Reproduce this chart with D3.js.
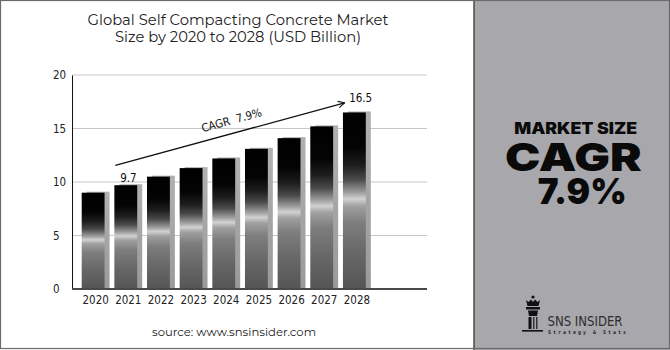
<!DOCTYPE html>
<html>
<head>
<meta charset="utf-8">
<script src="https://cdn.jsdelivr.net/npm/d3@7/dist/d3.min.js"></script>
<style>
  html, body { margin: 0; padding: 0; background: #fff; }
  svg { display: block; }
</style>
</head>
<body>
<svg id="chart" width="670" height="350"></svg>
<script>
// ---- data ----
const years = ["2020", "2021", "2022", "2023", "2024", "2025", "2026", "2027", "2028"];
const values = [9.0, 9.7, 10.5, 11.3, 12.2, 13.1, 14.1, 15.2, 16.5];
const yTicks = [0, 5, 10, 15, 20];
const labelledYears = ["2021", "2028"];
const titleLines = ["Global Self Compacting Concrete Market", "Size by 2020 to 2028 (USD Billion)"];
const cagrText = "CAGR  7.9%";
const sideLines = ["MARKET SIZE", "CAGR", "7.9%"];
const sourceText = "source: www.snsinsider.com";

const W = 670, H = 350;
const svg = d3.select("#chart");
const condensed = "'Liberation Sans Narrow', 'DejaVu Sans Condensed', 'Roboto Condensed', 'Liberation Sans', sans-serif";
const wide = "Montserrat, 'Open Sans', 'Noto Sans', sans-serif";

// ---- gradients ----
const defs = svg.append("defs");
const g1 = defs.append("linearGradient").attr("id", "barGrad").attr("x1", 0).attr("y1", 0).attr("x2", 0).attr("y2", 1);
[[0, "#000"], [0.2, "#040404"], [0.3, "#1e1e1e"], [0.38, "#4a4a4a"], [0.45, "#9a9a9a"], [0.49, "#d2d2d2"], [0.53, "#a0a0a0"], [0.62, "#7e7e7e"], [0.8, "#676767"], [1, "#555"]]
  .forEach(([o, c]) => g1.append("stop").attr("offset", o).attr("stop-color", c));
const g2 = defs.append("linearGradient").attr("id", "shadowGrad").attr("x1", 0).attr("y1", 0).attr("x2", 0).attr("y2", 1);
[[0, "#b0b0b0"], [1, "#9a9a9a"]].forEach(([o, c]) => g2.append("stop").attr("offset", o).attr("stop-color", c));
const mk = defs.append("marker").attr("id", "arrow").attr("viewBox", "0 0 10 10").attr("refX", 9).attr("refY", 5)
  .attr("markerWidth", 8).attr("markerHeight", 8).attr("markerUnits", "userSpaceOnUse").attr("orient", "auto");
mk.append("path").attr("d", "M1,1 L9,5 L1,9").attr("fill", "none").attr("stroke", "#111").attr("stroke-width", 1.4);

// ---- background / panels ----
svg.append("rect").attr("x", 0).attr("y", 0).attr("width", W).attr("height", H).attr("fill", "#fff");
svg.append("rect").attr("x", 474).attr("y", 0).attr("width", W - 474).attr("height", H).attr("fill", "#a8a8ac");
svg.append("line").attr("x1", 474).attr("x2", 474).attr("y1", 0).attr("y2", H).attr("stroke", "#4a4a4a").attr("stroke-width", 1.5);
svg.append("rect").attr("x", 0.5).attr("y", 0.5).attr("width", W - 1).attr("height", H - 2).attr("fill", "none").attr("stroke", "#6a6a6a").attr("stroke-width", 1.2);

// ---- title ----
const titleW = [301, 246];
titleLines.forEach((t, i) => {
  svg.append("text").attr("x", 238).attr("y", 24.5 + i * 17.3).attr("text-anchor", "middle")
    .attr("font-family", wide).attr("font-size", 14).attr("fill", "#222")
    .attr("textLength", titleW[i]).attr("lengthAdjust", "spacingAndGlyphs").text(t);
});

// ---- scales ----
const x0 = 72, x1 = 427;
const y = d3.scaleLinear().domain([0, 20]).range([289, 75]);
const x = d3.scaleBand().domain(years).range([76.8, 370.7]).paddingInner(0.3).paddingOuter(0.15);
const bw = x.bandwidth();

// gridlines
svg.append("g").selectAll("line").data(yTicks.filter(d => d > 0)).join("line")
  .attr("x1", x0).attr("x2", x1).attr("y1", d => y(d)).attr("y2", d => y(d))
  .attr("stroke", "#c6c6c6").attr("stroke-width", 1);

// y axis
const yAxis = d3.axisLeft(y).tickValues(yTicks).tickSize(0).tickPadding(0);
const ya = svg.append("g").attr("transform", `translate(${x0},0)`).call(yAxis);
ya.select(".domain").attr("stroke", "#111").attr("stroke-width", 1);
ya.selectAll("text").attr("x", 53 - x0).attr("text-anchor", "start")
  .attr("font-family", condensed).attr("font-size", 11.5).attr("fill", "#222");

// bars
const bars = svg.append("g");
bars.selectAll("rect.sh").data(values).join("rect").attr("class", "sh")
  .attr("x", (d, i) => x(years[i]) + 5).attr("y", d => y(d) - 1)
  .attr("width", bw).attr("height", d => y(0) - y(d) + 1)
  .attr("fill", "url(#shadowGrad)");
bars.selectAll("rect.bar").data(values).join("rect").attr("class", "bar")
  .attr("x", (d, i) => x(years[i])).attr("y", d => y(d))
  .attr("width", bw).attr("height", d => y(0) - y(d))
  .attr("fill", "url(#barGrad)");

// x baseline
svg.append("line").attr("x1", x0).attr("x2", x1).attr("y1", y(0)).attr("y2", y(0))
  .attr("stroke", "#4a4a4a").attr("stroke-width", 2);

// x labels
const xAxis = d3.axisBottom(x).tickSize(0).tickPadding(0);
const xa = svg.append("g").attr("transform", `translate(2.5,${y(0)})`).call(xAxis);
xa.select(".domain").remove();
xa.selectAll("text").attr("dy", 0).attr("y", 14.5)
  .attr("font-family", condensed).attr("font-size", 11.5).attr("fill", "#222");

// value labels
labelledYears.forEach((yr, k) => {
  const i = years.indexOf(yr);
  const v = values[i];
  svg.append("text").attr("x", x(yr) + bw / 2 + (k === 0 ? 2.6 : 6.3))
    .attr("y", y(v) - (k === 0 ? 3.6 : 10))
    .attr("text-anchor", "middle").attr("font-family", condensed).attr("font-size", 11.5).attr("fill", "#111")
    .text(v.toFixed(1));
});

// CAGR arrow
const ax1 = x("2021") + 1, ay1 = y(11.55);
const ax2 = x("2028") + 1.7, ay2 = y(17.4);
svg.append("line").attr("x1", ax1).attr("y1", ay1).attr("x2", ax2).attr("y2", ay2)
  .attr("stroke", "#111").attr("stroke-width", 1.3).attr("marker-end", "url(#arrow)");
const ang = Math.atan2(ay2 - ay1, ax2 - ax1) * 180 / Math.PI;
const tx = 235, ty = ay1 + (tx - ax1) * (ay2 - ay1) / (ax2 - ax1);
svg.append("text").attr("transform", `translate(${tx},${ty}) rotate(${ang}) translate(0,-9)`)
  .attr("text-anchor", "middle").attr("font-family", condensed).attr("font-size", 11.5).attr("fill", "#111")
  .attr("xml:space", "preserve").style("white-space", "pre").text(cagrText);

// source
svg.append("text").attr("x", 234).attr("y", 336).attr("text-anchor", "middle")
  .attr("font-family", wide).attr("font-size", 11).attr("fill", "#222")
  .attr("textLength", 164).attr("lengthAdjust", "spacingAndGlyphs").text(sourceText);

// ---- side panel text ----
const heavy = "Inter, Roboto, 'Noto Sans', sans-serif";
const side = [
  { t: sideLines[0], x: 575.7, y: 134, size: 16, w: 123 },
  { t: sideLines[1], x: 573.3, y: 171, size: 39, w: 136.7 },
  { t: sideLines[2], x: 582.2, y: 204, size: 36, w: 89 }
];
side.forEach(s => {
  svg.append("text").attr("x", s.x).attr("y", s.y).attr("text-anchor", "middle")
    .attr("font-family", heavy).attr("font-weight", 900).attr("font-size", s.size).attr("fill", "#0a0a0a")
    .attr("textLength", s.w).attr("lengthAdjust", "spacingAndGlyphs").text(s.t);
});

// ---- logo ----
const logo = svg.append("g").attr("fill", "#111");
// crown
logo.append("circle").attr("cx", 533, ).attr("cy", 297).attr("r", 1.6);
logo.append("path").attr("d", "M526,300 L528.5,302 L531,299.5 L533,302 L535,299.5 L537.5,302 L540,300 L538.5,306 L527.5,306 Z");
logo.append("rect").attr("x", 526).attr("y", 307).attr("width", 14).attr("height", 2.5);
// body
logo.append("path").attr("d", "M528,310.5 L538,310.5 L537,316 L529,316 Z");
logo.append("rect").attr("x", 528.5).attr("y", 317).attr("width", 3).attr("height", 12);
logo.append("rect").attr("x", 533).attr("y", 317).attr("width", 1.5).attr("height", 12).attr("fill", "#333");
logo.append("rect").attr("x", 536).attr("y", 317).attr("width", 1.5).attr("height", 12).attr("fill", "#333");
logo.append("rect").attr("x", 522).attr("y", 330).attr("width", 21).attr("height", 1.6);
svg.append("text").attr("x", 547.5).attr("y", 326).attr("font-family", condensed).attr("font-size", 13.5)
  .attr("fill", "#2e2e2e").attr("textLength", 75).attr("lengthAdjust", "spacingAndGlyphs").text("SNS INSIDER");
svg.append("text").attr("x", 548).attr("y", 333.5).attr("font-family", "'DejaVu Sans Mono', monospace").attr("font-weight", 700)
  .attr("font-size", 5).attr("fill", "#222").attr("textLength", 78).attr("lengthAdjust", "spacing").text("Strategy & Stats");
</script>
</body>
</html>
